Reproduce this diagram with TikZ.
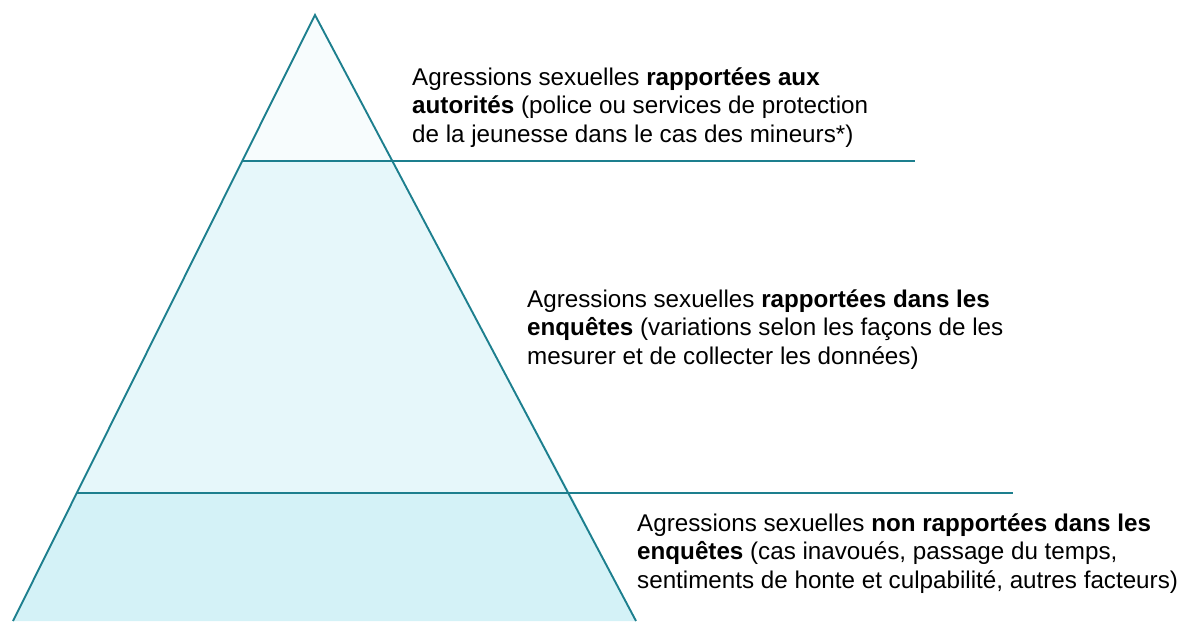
\documentclass[tikz,border=0pt]{standalone}
\usepackage{fontspec}
\setmainfont{Liberation Sans}
\usetikzlibrary{positioning}

\definecolor{bordure}{HTML}{1D7F8E}
\definecolor{palier1}{HTML}{F7FCFD}
\definecolor{palier2}{HTML}{E6F7FA}
\definecolor{palier3}{HTML}{D4F2F7}

\begin{document}
\begin{tikzpicture}[x=1pt, y=-1pt,
    trait/.style={draw=bordure, line width=1.9pt},
    texte/.style={anchor=base west, align=left, inner sep=0pt,
      font=\fontsize{24.2}{28.5}\selectfont}]
    \useasboundingbox (0,0) rectangle (1185,621);

    % Sommet et coins des paliers
    \coordinate (sommet) at (315,15);
    \coordinate (g1) at (243,161);
    \coordinate (d1) at (392,161);
    \coordinate (g2) at (77,493);
    \coordinate (d2) at (570,493);
    \coordinate (g3) at (13,621);
    \coordinate (d3) at (636,621);

    % Remplissage des trois paliers
    \fill[palier1] (sommet) -- (d1) -- (g1) -- cycle;
    \fill[palier2] (g1) -- (d1) -- (d2) -- (g2) -- cycle;
    \fill[palier3] (g2) -- (d2) -- (d3) -- (g3) -- cycle;

    % Côtés de la pyramide
    \draw[trait] (g3) -- (sommet) -- (d3);

    % Séparations prolongées vers les textes
    \coordinate (f1) at (915,161);
    \coordinate (f2) at (1013,493);
    \draw[trait] (g1) -- (f1);
    \draw[trait] (g2) -- (f2);

    % Textes des paliers (ancrés sur la dernière ligne)
    \node[texte] (autorites) at (412,142) {Agressions sexuelles \textbf{rapportées aux}\\
      \textbf{autorités} (police ou services de protection\\
      de la jeunesse dans le cas des mineurs*)};
    \node[texte] (enquetes) at (527,364) {Agressions sexuelles \textbf{rapportées dans les}\\
      \textbf{enquêtes} (variations selon les façons de les\\
      mesurer et de collecter les données)};
    \node[texte] (nonrapportees) at (637,588) {Agressions sexuelles \textbf{non rapportées dans les}\\
      \textbf{enquêtes} (cas inavoués, passage du temps,\\
      sentiments de honte et culpabilité, autres facteurs)};
\end{tikzpicture}
\end{document}
